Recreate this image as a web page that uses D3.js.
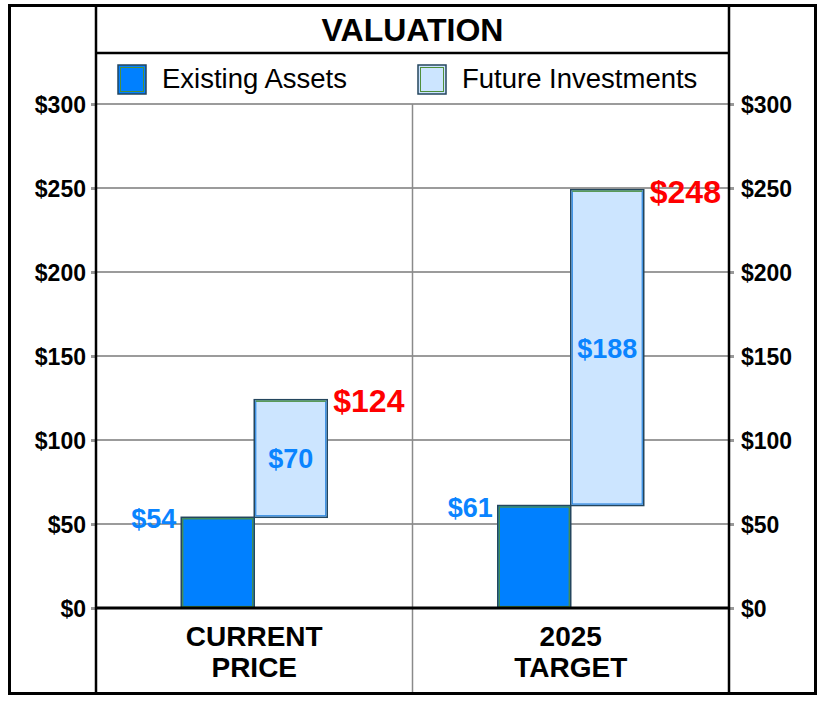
<!DOCTYPE html>
<html>
<head>
<meta charset="utf-8">
<script src="https://cdn.jsdelivr.net/npm/d3@7"></script>
<style>
  body { margin: 0; background: #fff; }
  text { font-family: "Liberation Sans", Arial, Helvetica, sans-serif; }
</style>
</head>
<body>
<svg id="chart" width="824" height="704"></svg>
<script>
// data
var categories = ['CURRENT PRICE', '2025 TARGET'];
var existingAssets = [54, 61];
var futureInvestments = [70, 188];
var totals = [124, 248];
var yTicks = [0, 50, 100, 150, 200, 250, 300];
var seriesNames = ['Existing Assets', 'Future Investments'];

var svg = d3.select('#chart');

var plotLeft = 96, plotRight = 729, plotTop = 104, plotBottom = 608;
var blue = '#0080ff';
var lightBlue = '#cce5ff';

var x = d3.scaleBand()
  .domain(categories)
  .range([plotLeft, plotRight]);

var y = d3.scaleLinear()
  .domain([0, 300])
  .range([plotBottom, plotTop]);

var barWidth = 73;

// grid lines
svg.append('g')
  .selectAll('line')
  .data(yTicks.filter(function(d) { return d > 0; }))
  .enter().append('line')
  .attr('x1', plotLeft)
  .attr('x2', plotRight)
  .attr('y1', function(d) { return y(d); })
  .attr('y2', function(d) { return y(d); })
  .attr('stroke', '#7a7a7a')
  .attr('stroke-width', 1.5);

// middle divider
svg.append('line')
  .attr('x1', x(categories[1]))
  .attr('x2', x(categories[1]))
  .attr('y1', plotTop)
  .attr('y2', 694)
  .attr('stroke', '#8a8a8a')
  .attr('stroke-width', 1.5);

// axes
var leftAxis = svg.append('g')
  .attr('transform', 'translate(' + plotLeft + ',0)')
  .call(d3.axisLeft(y).tickValues(yTicks).tickSize(5).tickPadding(5)
    .tickFormat(function(d) { return '$' + d; }));

var rightAxis = svg.append('g')
  .attr('transform', 'translate(' + plotRight + ',0)')
  .call(d3.axisRight(y).tickValues(yTicks).tickSize(5).tickPadding(7)
    .tickFormat(function(d) { return '$' + d; }));

[leftAxis, rightAxis].forEach(function(a) {
  a.select('.domain').remove();
  a.selectAll('.tick line').attr('stroke', '#999').attr('stroke-width', 3);
  a.selectAll('.tick text')
    .attr('fill', '#000')
    .style('font-size', '23px')
    .style('font-weight', 'bold')
    .attr('dy', '0.36em');
});

function drawBar(g, x0, y0, y1, fill, inner) {
  g.append('rect')
    .attr('x', x0)
    .attr('y', y0)
    .attr('width', barWidth)
    .attr('height', y1 - y0)
    .attr('fill', fill)
    .attr('stroke', '#24465e')
    .attr('stroke-width', 1.5);
  g.append('rect')
    .attr('x', x0 + 1.5)
    .attr('y', y0 + 1.5)
    .attr('width', barWidth - 3)
    .attr('height', y1 - y0 - 3)
    .attr('fill', 'none')
    .attr('stroke', inner)
    .attr('stroke-width', 1.2);
}

var bars = svg.append('g');

categories.forEach(function(c, i) {
  var cx = x(c) + x.bandwidth() / 2;
  drawBar(bars, cx - barWidth, y(existingAssets[i]), y(0), blue, '#4f8f3a');
  drawBar(bars, cx, y(existingAssets[i] + futureInvestments[i]), y(existingAssets[i]), lightBlue, '#2a86e0');

  // green top edge on future bar
  bars.append('line')
    .attr('x1', cx + 1.5)
    .attr('x2', cx + barWidth - 1.5)
    .attr('y1', y(existingAssets[i] + futureInvestments[i]) + 1.5)
    .attr('y2', y(existingAssets[i] + futureInvestments[i]) + 1.5)
    .attr('stroke', '#5f9a2a')
    .attr('stroke-width', 1.2);

  bars.append('text')
    .attr('x', cx - barWidth - 5)
    .attr('y', y(existingAssets[i]) + 11)
    .attr('text-anchor', 'end')
    .attr('fill', '#0a84ff')
    .style('font-size', '27px')
    .style('font-weight', 'bold')
    .text('$' + existingAssets[i]);

  bars.append('text')
    .attr('x', cx + barWidth / 2)
    .attr('y', (y(existingAssets[i]) + y(existingAssets[i] + futureInvestments[i])) / 2 + 10)
    .attr('text-anchor', 'middle')
    .attr('fill', '#0a84ff')
    .style('font-size', '27px')
    .style('font-weight', 'bold')
    .text('$' + futureInvestments[i]);

  bars.append('text')
    .attr('x', cx + barWidth + 6)
    .attr('y', y(totals[i]) + 12)
    .attr('fill', '#ff0000')
    .style('font-size', '32px')
    .style('font-weight', 'bold')
    .text('$' + totals[i]);

  // category label
  var words = c.split(' ');
  svg.append('text')
    .attr('x', cx)
    .attr('text-anchor', 'middle')
    .style('font-size', '28px')
    .style('font-weight', 'bold')
    .selectAll('tspan')
    .data(words)
    .enter().append('tspan')
    .attr('x', cx)
    .attr('y', function(d, j) { return 646 + j * 31; })
    .text(function(d) { return d; });
});

// zero line
svg.append('line')
  .attr('x1', plotLeft)
  .attr('x2', plotRight)
  .attr('y1', y(0))
  .attr('y2', y(0))
  .attr('stroke', '#000')
  .attr('stroke-width', 3);

// frame
svg.append('rect')
  .attr('x', 9.5)
  .attr('y', 5.5)
  .attr('width', 806)
  .attr('height', 688)
  .attr('fill', 'none')
  .attr('stroke', '#000')
  .attr('stroke-width', 3);

[plotLeft, plotRight].forEach(function(px) {
  svg.append('line')
    .attr('x1', px).attr('x2', px)
    .attr('y1', 5).attr('y2', 694)
    .attr('stroke', '#000')
    .attr('stroke-width', 2.5);
});

svg.append('line')
  .attr('x1', plotLeft).attr('x2', plotRight)
  .attr('y1', 53).attr('y2', 53)
  .attr('stroke', '#000')
  .attr('stroke-width', 2.5);

// title
svg.append('text')
  .attr('x', (plotLeft + plotRight) / 2)
  .attr('y', 41)
  .attr('text-anchor', 'middle')
  .style('font-size', '32px')
  .style('font-weight', 'bold')
  .text('VALUATION');

// legend
var legendX = [118, 418];
var legendFill = [blue, lightBlue];
var legendInner = ['#4f8f3a', '#4f8f3a'];
seriesNames.forEach(function(name, i) {
  svg.append('rect')
    .attr('x', legendX[i])
    .attr('y', 65)
    .attr('width', 28)
    .attr('height', 29)
    .attr('fill', legendFill[i])
    .attr('stroke', '#24465e')
    .attr('stroke-width', 1.5);
  svg.append('rect')
    .attr('x', legendX[i] + 2.5)
    .attr('y', 67.5)
    .attr('width', 23)
    .attr('height', 24)
    .attr('fill', 'none')
    .attr('stroke', legendInner[i])
    .attr('stroke-width', 1);
  svg.append('text')
    .attr('x', legendX[i] + 44)
    .attr('y', 88)
    .style('font-size', '27.5px')
    .text(name);
});
</script>
</body>
</html>
